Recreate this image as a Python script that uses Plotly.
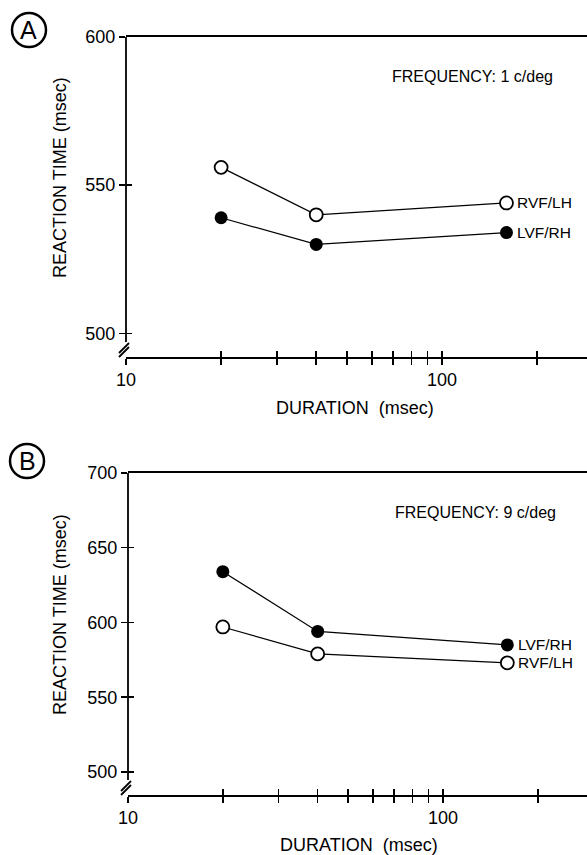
import math
import plotly.graph_objects as go

W, H = 587, 855
FONT = "Liberation Sans, Arial, Helvetica, sans-serif"

# ---------------- data ----------------
durations = [20, 40, 160]
a_rvf_lh = [556, 540, 544]   # open circles, panel A
a_lvf_rh = [539, 530, 534]   # filled circles, panel A
b_lvf_rh = [634, 594, 585]   # filled circles, panel B
b_rvf_lh = [597, 579, 573]   # open circles, panel B

x_tickvals = [10, 20, 30, 40, 50, 60, 70, 80, 90, 100, 200]
x_ticktext = ["10", "", "", "", "", "", "", "", "", "100", ""]
a_ytickvals = [500, 550, 600]
b_ytickvals = [500, 550, 600, 650, 700]
a_freq_label = "FREQUENCY: 1 c/deg"
b_freq_label = "FREQUENCY: 9 c/deg"

# ---------------- layout geometry (pixels) ----------------
panels = {
    "A": dict(left=126, top=37, bottom=357, xr=[1, 2.459], yr=[492, 600],
              yt=a_ytickvals, freq=a_freq_label, freq_xy=(390, 76),
              ytitle_y=178, xtitle_y=408, xtitle_x=355, letter_xy=(29, 30)),
    "B": dict(left=128, top=473, bottom=795, xr=[1, 2.457], yr=[484.6, 700],
              yt=b_ytickvals, freq=b_freq_label, freq_xy=(393, 512),
              ytitle_y=615, xtitle_y=845, xtitle_x=359, letter_xy=(27, 461)),
}

def fx(px):
    return px / W

def fy(py):
    return 1 - py / H

fig = go.Figure()

def add_series(xa, ya, ys, filled, label):
    fig.add_trace(go.Scatter(
        x=durations, y=ys, xaxis=xa, yaxis=ya, mode="lines+markers",
        line=dict(color="black", width=1.2),
        marker=dict(size=13, color="black" if filled else "white",
                    line=dict(color="black", width=0 if filled else 1.8)),
        showlegend=False, hoverinfo="skip"))
    # annotations on a log axis take log10 positions
    fig.add_annotation(x=math.log10(durations[-1]), y=ys[-1], xref=xa, yref=ya,
                       text=label, showarrow=False, xanchor="left",
                       yanchor="middle", xshift=9,
                       font=dict(family=FONT, size=15.5, color="black"))

add_series("x", "y", a_rvf_lh, False, "RVF/LH")
add_series("x", "y", a_lvf_rh, True, "LVF/RH")
add_series("x2", "y2", b_lvf_rh, True, "LVF/RH")
add_series("x2", "y2", b_rvf_lh, False, "RVF/LH")

# empty traces so the overlay (inside-tick) axes get drawn
fig.add_trace(go.Scatter(x=[], y=[], xaxis="x3", yaxis="y3", showlegend=False))
fig.add_trace(go.Scatter(x=[], y=[], xaxis="x4", yaxis="y4", showlegend=False))

axis_common = dict(showgrid=False, zeroline=False, color="black",
                   tickcolor="black", tickwidth=1.5, ticklen=6,
                   automargin=False,
                   tickfont=dict(family=FONT, size=18, color="black"))

layout = dict(width=W, height=H, margin=dict(l=0, r=0, t=0, b=0),
              paper_bgcolor="white", plot_bgcolor="white",
              font=dict(family=FONT, color="black"))

shapes = []
annotations = []

for idx, key in enumerate(["A", "B"]):
    p = panels[key]
    xn = "" if idx == 0 else "2"
    ovn = "3" if idx == 0 else "4"
    xdom = [fx(p["left"]), 1.0]
    ydom = [fy(p["bottom"]), fy(p["top"])]
    layout["xaxis" + xn] = dict(axis_common, domain=xdom, type="log", range=p["xr"],
                                anchor="y" + xn, tickmode="array",
                                tickvals=x_tickvals, ticktext=x_ticktext,
                                ticks="outside", showline=True, linecolor="black",
                                linewidth=1.6, mirror=True)
    layout["yaxis" + xn] = dict(axis_common, domain=ydom, range=p["yr"],
                                anchor="x" + xn, tickmode="array",
                                tickvals=p["yt"], ticks="outside",
                                showline=False)
    layout["xaxis" + ovn] = dict(axis_common, type="log", range=p["xr"],
                                 overlaying="x" + xn, anchor="y" + ovn,
                                 tickmode="array", tickvals=x_tickvals,
                                 ticks="inside", showticklabels=False,
                                 showline=False)
    layout["yaxis" + ovn] = dict(axis_common, range=p["yr"],
                                 overlaying="y" + xn, anchor="x" + ovn,
                                 tickmode="array", tickvals=p["yt"],
                                 ticks="inside", showticklabels=False,
                                 showline=False, side="left")

    # y axis line with a break near the bottom
    hpx = p["bottom"] - p["top"]
    wpx = W - p["left"]
    gap_top = 15 / hpx
    xr_ = "x" + xn + " domain"
    yr_ = "y" + xn + " domain"
    shapes.append(dict(type="line", xref=xr_, yref=yr_, x0=0, x1=0,
                       y0=gap_top, y1=1, line=dict(color="black", width=1.8)))
    for dy in (0, 4):
        shapes.append(dict(type="line", xref=xr_, yref=yr_,
                           x0=-7 / wpx, y0=(4 - dy) / hpx,
                           x1=3 / wpx, y1=(14 - dy) / hpx,
                           line=dict(color="black", width=1.8)))

    # circled panel letter
    cx, cy = p["letter_xy"]
    r = 17
    shapes.append(dict(type="circle", xref="paper", yref="paper",
                       x0=fx(cx - r), x1=fx(cx + r), y0=fy(cy + r), y1=fy(cy - r),
                       line=dict(color="black", width=2.5)))
    annotations.append(dict(x=fx(cx), y=fy(cy), xref="paper", yref="paper",
                            text=key, showarrow=False, xanchor="center",
                            yanchor="middle",
                            font=dict(family=FONT, size=25, color="black")))

    # frequency label
    annotations.append(dict(x=fx(p["freq_xy"][0]), y=fy(p["freq_xy"][1]),
                            xref="paper", yref="paper", text=p["freq"],
                            showarrow=False, xanchor="left", yanchor="middle",
                            font=dict(family=FONT, size=16, color="black")))
    # axis titles
    annotations.append(dict(x=fx(60), y=fy(p["ytitle_y"]), xref="paper",
                            yref="paper", text="REACTION TIME (msec)",
                            textangle=-90, showarrow=False, xanchor="center",
                            yanchor="middle",
                            font=dict(family=FONT, size=18, color="black")))
    annotations.append(dict(x=fx(p["xtitle_x"]), y=fy(p["xtitle_y"]),
                            xref="paper", yref="paper",
                            text="DURATION  (msec)", showarrow=False,
                            xanchor="center", yanchor="middle",
                            font=dict(family=FONT, size=18, color="black")))

layout["shapes"] = shapes
fig.update_layout(**layout)
for a in annotations:
    fig.add_annotation(**a)

fig.write_html(
    "out.html",
    config={"displayModeBar": False, "staticPlot": True},
    post_script="document.body.style.margin='0';document.body.style.overflow='hidden';",
)
